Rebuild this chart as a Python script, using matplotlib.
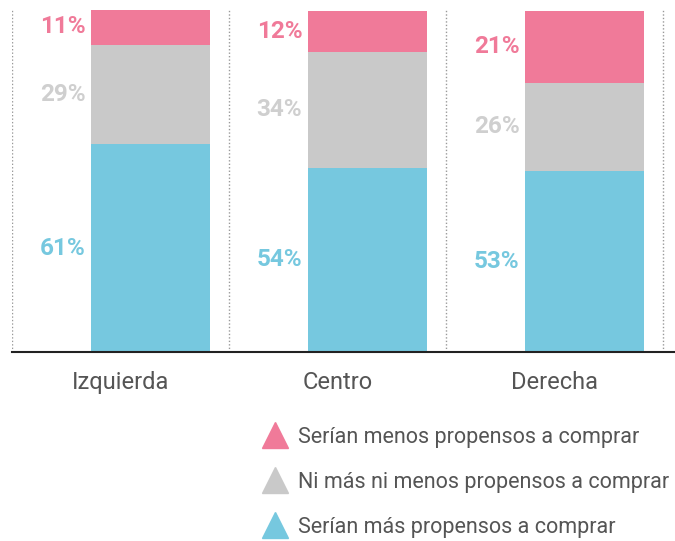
import matplotlib
matplotlib.use("Agg")
import matplotlib.pyplot as plt
from matplotlib.lines import Line2D
import numpy as np

plt.rcParams['font.family'] = ['Roboto', 'DejaVu Sans']

categories = ["Izquierda", "Centro", "Derecha"]
mas = [61, 54, 53]
ni = [29, 34, 26]
menos = [11, 12, 21]

series_labels = ["Serían menos propensos a comprar",
                 "Ni más ni menos propensos a comprar",
                 "Serían más propensos a comprar"]

c_pink = "#f07a99"
c_gray = "#c9c9c9"
c_blue = "#76c8df"
c_gray_txt = "#cfcfcf"

fig = plt.figure(figsize=(6.75, 5.41), dpi=100)
ax = fig.add_axes([12 / 675, 189 / 541, 663 / 675, 342 / 541])

x = np.arange(len(categories))
offset = 0.14
width = 0.548
xb = x + offset

mas = np.array(mas)
ni = np.array(ni)
menos = np.array(menos)

ax.bar(xb, mas, width, color=c_blue, zorder=2)
ax.bar(xb, ni, width, bottom=mas, color=c_gray, zorder=2)
ax.bar(xb, menos, width, bottom=mas + ni, color=c_pink, zorder=2)

# percentage labels to the left of each segment
for i in range(len(categories)):
    lx = xb[i] - width / 2 - 0.028
    segs = [(mas[i], 0, c_blue), (ni[i], mas[i], c_gray_txt), (menos[i], mas[i] + ni[i], c_pink)]
    for val, bot, col in segs:
        ax.text(lx, bot + val / 2, "%d%%" % val, ha="right", va="center",
                fontsize=17.5, fontweight="bold", color=col)

# dotted separators
for sx in [-0.5, 0.5, 1.5, 2.5]:
    ax.axvline(sx, color="#999999", lw=1, ls=(0, (1, 1.5)), zorder=1)

ax.set_xlim(-0.5, 2.555)
ax.set_ylim(0, 100.3)
ax.set_xticks(x)
ax.set_xticklabels(categories, fontsize=17, color="#555555")
ax.tick_params(axis="x", length=0, pad=14)
ax.set_yticks([])
for s in ["top", "right", "left"]:
    ax.spines[s].set_visible(False)
ax.spines["bottom"].set_color("#222222")
ax.spines["bottom"].set_linewidth(1.5)
ax.spines["bottom"].set_zorder(3)

handles = [Line2D([], [], marker="^", ls="none", color=c, markersize=19)
           for c in [c_pink, c_gray, c_blue]]
fig.legend(handles, series_labels, loc="upper left", bbox_to_anchor=(251 / 675, 1 - 418 / 541),
           frameon=False, fontsize=15.5, labelcolor="#555555", handletextpad=0.38,
           labelspacing=1.12, handlelength=1.4, borderaxespad=0)

fig.savefig("out.png", dpi=100)
